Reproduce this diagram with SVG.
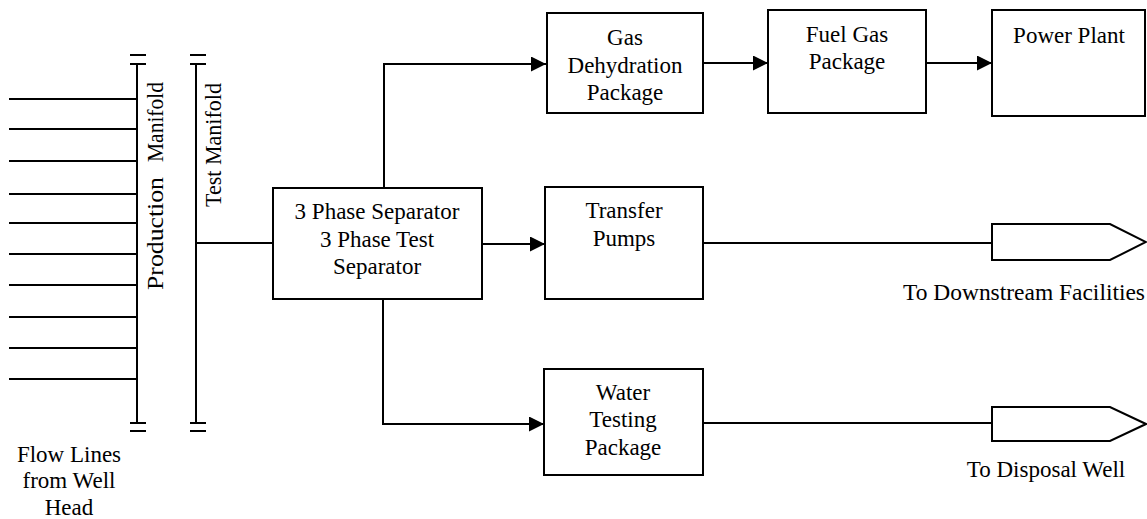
<svg xmlns="http://www.w3.org/2000/svg" width="1147" height="519" viewBox="0 0 1147 519">
<style>
.b{fill:#fff;stroke:#000;stroke-width:2}
.l{fill:none;stroke:#000;stroke-width:2}
.t{font-family:"Liberation Serif","Times New Roman",serif;font-size:23px;fill:#000;text-anchor:middle}
.s{font-family:"Liberation Serif","Times New Roman",serif;font-size:23px;fill:#000}
</style>
<defs>
<marker id="ah" markerUnits="userSpaceOnUse" markerWidth="16" markerHeight="16" refX="15" refY="7.5" orient="auto">
<path d="M0,0 L15,7.5 L0,15 Z" fill="#000"/>
</marker>
</defs>
<rect width="1147" height="519" fill="#fff"/>
<g id="flow-lines">
<path class="l" d="M9,99H137M9,129H137M9,161H137M9,194H137M9,223H137M9,254H137M9,285H137M9,317H137M9,348H137M9,379H137"/>
<text class="t" x="69" y="462">Flow Lines</text>
<text class="t" x="69" y="488">from Well</text>
<text class="t" x="69" y="515">Head</text>
</g>
<g id="production-manifold">
<path class="l" d="M137,64V423M130,55H146M130,64H146M130,423H146M130,431H146"/>
<text class="s" transform="translate(163,290) rotate(-90)"><tspan x="0" textLength="113" lengthAdjust="spacingAndGlyphs">Production</tspan><tspan x="128" textLength="80" lengthAdjust="spacingAndGlyphs">Manifold</tspan></text>
</g>
<g id="test-manifold">
<path class="l" d="M196,64V423M190,55H206M190,64H206M190,423H206M190,431H206"/>
<text class="s" transform="translate(221,207) rotate(-90)" textLength="124" lengthAdjust="spacingAndGlyphs">Test Manifold</text>
</g>
<g id="connectors">
<path class="l" d="M196,243H273"/>
<path class="l" d="M384,188V64H546" marker-end="url(#ah)"/>
<path class="l" d="M482,244H545" marker-end="url(#ah)"/>
<path class="l" d="M383,299V424H544" marker-end="url(#ah)"/>
<path class="l" d="M703,63H768" marker-end="url(#ah)"/>
<path class="l" d="M926,63H992" marker-end="url(#ah)"/>
<path class="l" d="M703,243H992"/>
<path class="l" d="M703,423H992"/>
</g>
<g id="separator">
<rect class="b" x="273" y="188" width="209" height="111"/>
<text class="t" x="377" y="219">3 Phase Separator</text>
<text class="t" x="377" y="247">3 Phase Test</text>
<text class="t" x="377" y="274">Separator</text>
</g>
<g id="gas-dehydration">
<rect class="b" x="547" y="13" width="156" height="100"/>
<text class="t" x="625" y="45">Gas</text>
<text class="t" x="625" y="73">Dehydration</text>
<text class="t" x="625" y="100">Package</text>
</g>
<g id="fuel-gas">
<rect class="b" x="768" y="10" width="158" height="103"/>
<text class="t" x="847" y="42">Fuel Gas</text>
<text class="t" x="847" y="69">Package</text>
</g>
<g id="power-plant">
<rect class="b" x="992" y="10" width="153" height="106"/>
<text class="t" x="1069" y="43">Power Plant</text>
</g>
<g id="transfer-pumps">
<rect class="b" x="545" y="187" width="158" height="112"/>
<text class="t" x="624" y="218">Transfer</text>
<text class="t" x="624" y="246">Pumps</text>
</g>
<g id="water-testing">
<rect class="b" x="544" y="369" width="159" height="106"/>
<text class="t" x="623" y="400">Water</text>
<text class="t" x="623" y="427">Testing</text>
<text class="t" x="623" y="455">Package</text>
</g>
<g id="downstream">
<polygon class="b" points="992,224 1110,224 1146,242 1110,260 992,260"/>
<text class="t" x="1024" y="300" textLength="242" lengthAdjust="spacingAndGlyphs">To Downstream Facilities</text>
</g>
<g id="disposal">
<polygon class="b" points="992,407 1110,407 1146,424 1110,441 992,441"/>
<text class="t" x="1046" y="477">To Disposal Well</text>
</g>
</svg>
